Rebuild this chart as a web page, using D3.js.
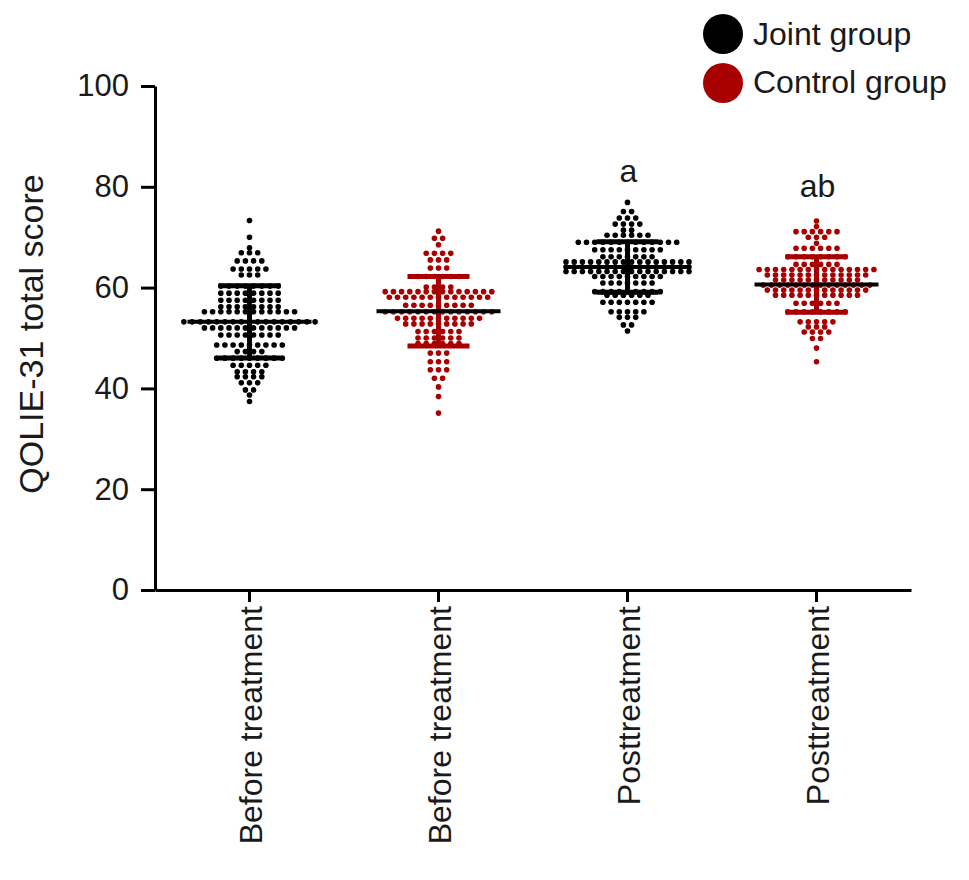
<!DOCTYPE html>
<meta charset="utf-8">
<style>
body{
	margin:0;
	background:#fff;
	font-family:"Liberation Sans",Arial,Helvetica,sans-serif;
}
text{fill:#1a1a1a;}
</style>
<script src="https://cdn.jsdelivr.net/npm/d3@7"></script>
<div id="chart"></div>

<script>

// x categories and which group each one belongs to
var categories = ["Before treatment","Before treatment ","Posttreatment","Posttreatment "]
var groupOf = ["Joint group","Control group","Joint group","Control group"]
var letters = ["","","a","ab"]

// mean and SD
var means = [53.2, 55.3, 64.1, 60.6]
var sds = [7.15, 6.9, 5.0, 5.5]

// dots, row by row: [score, number of dots in row]
var jointBefore = [[73.3,1],[70,1],[67.9,1],[66.9,3],[65.3,4],[63.7,5],[62.5,3],[60.3,8],[58.9,8],[57.5,8],[56.2,8],[55.2,12],[53.2,17],[52,12],[50.6,8],[48.6,9],[47.3,4],[46,9],[44.6,5],[43.3,4],[42.3,4],[41.1,3],[39.7,2],[38.7,1],[37.4,1]]
var controlBefore = [[71.2,1],[69.8,2],[68.5,1],[66.8,4],[65.5,3],[63.9,3],[62.2,6],[60.1,4],[59.2,14],[58.1,13],[56.5,9],[55.2,14],[53.9,11],[52.8,9],[51.3,6],[50,6],[48.9,6],[47,3],[45.3,3],[43.7,3],[42,2],[40.3,1],[38.4,1],[35.1,1]]
var jointPost = [[76.9,1],[75.1,2],[73.8,3],[72.6,4],[71.4,2],[70.4,6],[69,13],[67.5,9],[66.1,7],[65.1,16],[64.1,16],[63.2,16],[62.2,9],[60.9,7],[59.2,9],[58.5,6],[57.1,7],[55.2,5],[54.1,3],[52.6,2],[51.4,1]]
var controlPost = [[73.2,1],[72.1,1],[71.1,6],[70,3],[68.8,1],[67.8,6],[66.1,8],[64.6,6],[63.6,15],[62.5,13],[61.5,11],[60.5,14],[59.5,13],[58.5,11],[56.9,6],[55.2,8],[53.2,5],[52.2,3],[51.2,4],[49.9,2],[48,1],[45.3,1]]
var rows = [jointBefore, controlBefore, jointPost, controlPost]

var yTicks = [0,20,40,60,80,100]
var colors = {"Joint group":"#000000","Control group":"#a80000"}

var width = 969, height = 880
var svg = d3.select("#chart").append("svg").attr("width",width).attr("height",height)

var x = d3.scaleBand().domain(categories).range([155,911])
var y = d3.scaleLinear().domain([0,100]).range([590,86])

// expand rows into single points
var points = []
rows.forEach(function(r,gi){
	r.forEach(function(row){
		var n = row[1]
		for (var i = 0; i < n; i++) {
			points.push({g:gi, v:row[0], off:(i-(n-1)/2)*8.2})
		}
	})
})

var cx = function(gi){ return x(categories[gi]) + x.bandwidth()/2 }

svg.append("g").selectAll("circle").data(points).enter().append("circle")
	.attr("cx",function(d){ return cx(d.g)+d.off })
	.attr("cy",function(d){ return y(d.v) })
	.attr("r",2.8)
	.attr("fill",function(d){ return colors[groupOf[d.g]] })

// error bars: SD in group colour, mean line black
var bars = svg.append("g")
means.forEach(function(m,gi){
	var c = colors[groupOf[gi]], X = cx(gi)
	bars.append("line").attr("x1",X).attr("x2",X).attr("y1",y(m+sds[gi])).attr("y2",y(m-sds[gi]))
		.attr("stroke",c).attr("stroke-width",5)
	;[m+sds[gi], m-sds[gi]].forEach(function(v){
		bars.append("line").attr("x1",X-31).attr("x2",X+31).attr("y1",y(v)).attr("y2",y(v))
			.attr("stroke",c).attr("stroke-width",5)
	})
	bars.append("line").attr("x1",X-62).attr("x2",X+62).attr("y1",y(m)).attr("y2",y(m))
		.attr("stroke","#000").attr("stroke-width",4)
	if (letters[gi]) {
		svg.append("text").attr("x",X+1).attr("y",y(m+sds[gi])-60)
			.attr("text-anchor","middle").attr("font-size",32).text(letters[gi])
	}
})

// axes
var yAxis = svg.append("g").attr("transform","translate(155,0)")
	.call(d3.axisLeft(y).tickValues(yTicks).tickSize(14).tickSizeOuter(0).tickPadding(12))
yAxis.selectAll("text").attr("font-size",31).attr("font-family","Liberation Sans,Arial,sans-serif")
var xAxis = svg.append("g").attr("transform","translate(0,590)")
	.call(d3.axisBottom(x).tickSize(12).tickSizeOuter(0))
xAxis.selectAll("text").attr("font-size",32).attr("font-family","Liberation Sans,Arial,sans-serif")
	.attr("text-anchor","end").attr("dy",0).attr("y",0)
	.attr("transform","translate(12,16) rotate(-90)")
	.text(function(d){ return d.trim() })
svg.selectAll(".domain, .tick line").attr("stroke","#000").attr("stroke-width",3)

svg.append("text").attr("transform","translate(43,334) rotate(-90)")
	.attr("text-anchor","middle").attr("font-size",34).text("QOLIE-31 total score")

// legend
var legend = ["Joint group","Control group"]
legend.forEach(function(l,i){
	svg.append("circle").attr("cx",723).attr("cy",34+i*49).attr("r",20).attr("fill",colors[l])
	svg.append("text").attr("x",753).attr("y",45+i*48).attr("font-size",32).text(l)
})

</script>
